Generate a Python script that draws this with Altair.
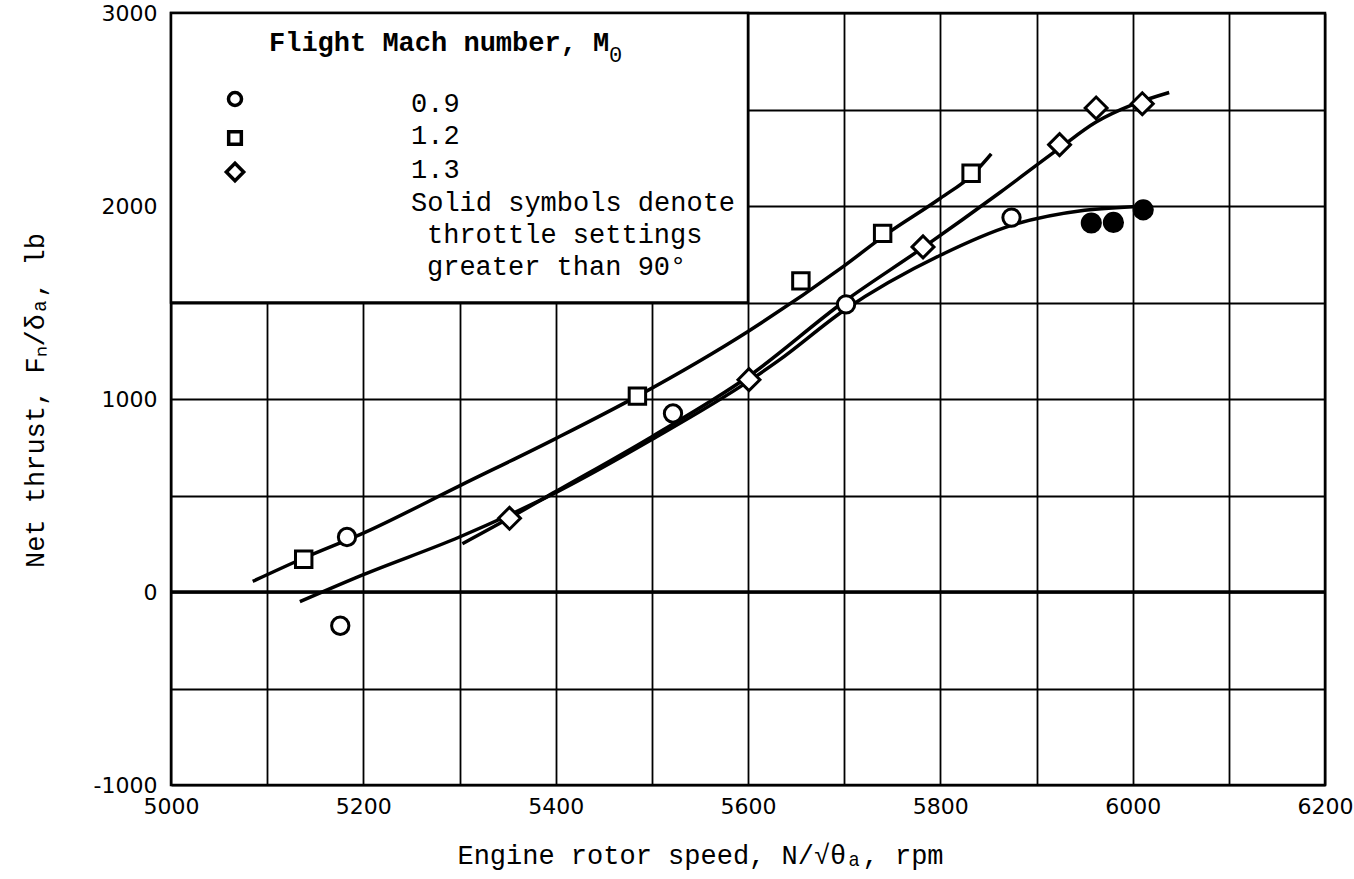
import altair as alt
import pandas as pd

# Measured points, Mach 0.9 (open circles) and throttle > 90 deg (solid circles)
m09_rpm = [5176, 5183, 5522, 5702, 5874]
m09_thrust = [-175, 285, 925, 1490, 1940]
m09_solid_rpm = [5957, 5980, 6011]
m09_solid_thrust = [1912, 1915, 1980]

# Mach 1.2 (squares) and Mach 1.3 (diamonds)
m12_rpm = [5138, 5485, 5655, 5740, 5832]
m12_thrust = [170, 1015, 1612, 1858, 2170]
m13_rpm = [5352, 5601, 5782, 5924, 5962, 6010]
m13_thrust = [382, 1100, 1788, 2318, 2508, 2530]

# Faired curves through each Mach number
c09_rpm = [5134, 5200, 5300, 5400, 5500, 5600, 5632, 5700, 5800, 5874, 5950, 6010]
c09_thrust = [-50, 90, 285, 515, 790, 1090, 1200, 1460, 1745, 1900, 1978, 1998]
c12_rpm = [5085, 5140, 5200, 5300, 5400, 5485, 5600, 5700, 5745, 5800, 5834, 5853]
c12_thrust = [55, 180, 305, 550, 795, 1015, 1350, 1690, 1858, 2040, 2165, 2270]
c13_rpm = [5303, 5350, 5400, 5500, 5600, 5700, 5783, 5862, 5924, 5962, 6000, 6038]
c13_thrust = [250, 378, 520, 805, 1115, 1505, 1788, 2070, 2300, 2435, 2525, 2588]

x_grid = list(range(5000, 6201, 100))
y_grid = list(range(-1000, 3001, 500))

W, H = 1154, 772
TYPE = "Liberation Mono"
TSIZE = 27

curves = pd.concat([
    pd.DataFrame({"rpm": c09_rpm, "thrust": c09_thrust, "mach": "0.9"}),
    pd.DataFrame({"rpm": c12_rpm, "thrust": c12_thrust, "mach": "1.2"}),
    pd.DataFrame({"rpm": c13_rpm, "thrust": c13_thrust, "mach": "1.3"}),
])
open_c = pd.DataFrame({"rpm": m09_rpm, "thrust": m09_thrust})
solid_c = pd.DataFrame({"rpm": m09_solid_rpm, "thrust": m09_solid_thrust})
squares = pd.DataFrame({"rpm": m12_rpm, "thrust": m12_thrust})
diamonds = pd.DataFrame({"rpm": m13_rpm, "thrust": m13_thrust})
key_box = pd.DataFrame({"x1": [5000], "x2": [5600], "y1": [1500], "y2": [3000]})
zero = pd.DataFrame({"thrust": [0]})
one = pd.DataFrame({"k": [0]})

xs = alt.Scale(domain=[5000, 6200], nice=False, zero=False)
ys = alt.Scale(domain=[-1000, 3000], nice=False, zero=False)

x_axis = alt.Axis(
    values=x_grid,
    labelExpr="datum.value % 200 === 0 ? '' + datum.value : ''",
    grid=True, gridColor="black", gridWidth=1.8, gridOpacity=1,
    ticks=False, domain=False, labelFont="DejaVu Sans", labelFontSize=22,
    labelColor="black", labelPadding=11, labelFlush=False, labelOverlap=False,
    title="Engine rotor speed, N/√θₐ, rpm", titleFont=TYPE, titleFontSize=TSIZE,
    titleFontWeight="normal", titleColor="black", titleX=529, titleY=70,
    titleAlign="center", titleBaseline="middle", zindex=0,
)
y_axis = alt.Axis(
    values=y_grid,
    labelExpr="datum.value % 1000 === 0 ? '' + datum.value : ''",
    grid=True, gridColor="black", gridWidth=1.8, gridOpacity=1,
    ticks=False, domain=False, labelFont="DejaVu Sans", labelFontSize=22,
    labelColor="black", labelPadding=14, labelFlush=False, labelOverlap=False,
    title="Net thrust, Fₙ/δₐ, lb", titleFont=TYPE, titleFontSize=TSIZE,
    titleFontWeight="normal", titleColor="black", titleX=-136, titleY=387,
    titleAngle=270, titleAlign="center", titleBaseline="middle", zindex=0,
)

base_x = alt.X("rpm:Q", scale=xs, axis=x_axis)
base_y = alt.Y("thrust:Q", scale=ys, axis=y_axis)

# White key panel over the upper-left grid
box = alt.Chart(key_box).mark_rect(fill="white", stroke="black", strokeWidth=2.5).encode(
    x=alt.X("x1:Q", scale=xs, axis=x_axis), x2="x2:Q",
    y=alt.Y("y1:Q", scale=ys, axis=y_axis), y2="y2:Q",
)

zero_line = alt.Chart(zero).mark_rule(color="black", strokeWidth=3.5).encode(
    y=alt.Y("thrust:Q", scale=ys, axis=y_axis)
)

lines = alt.Chart(curves).mark_line(color="black", strokeWidth=3.5, interpolate="monotone").encode(
    x=base_x, y=base_y, detail="mach:N"
)

def symbols(df, shape, size, fill):
    return alt.Chart(df).mark_point(
        shape=shape, size=size, filled=True, fill=fill, stroke="black",
        strokeWidth=3, opacity=1, fillOpacity=1,
    ).encode(x=base_x, y=base_y)

pts = [
    symbols(open_c, "circle", 300, "white"),
    symbols(solid_c, "circle", 330, "black"),
    symbols(squares, "square", 270, "white"),
    symbols(diamonds, "diamond", 480, "white"),
]

# Key entries
def key_text(txt, x, y, weight="normal", size=TSIZE):
    return alt.Chart(one).mark_text(
        x=x, y=y, text=txt, align="left", baseline="middle", font=TYPE,
        fontSize=size, fontWeight=weight, color="black",
    )

def key_symbol(shape, size, x, y):
    return alt.Chart(one).mark_point(
        x=x, y=y, shape=shape, size=size, filled=True, fill="white",
        stroke="black", strokeWidth=3.5, opacity=1,
    )

key = [
    key_text("Flight Mach number, M", 98, 30, "bold"),
    key_text("0", 438, 42, "normal", 22),
    key_symbol("circle", 170, 64, 86),
    key_symbol("square", 160, 64, 125),
    key_symbol("diamond", 300, 64, 159),
    key_text("0.9", 240, 91),
    key_text("1.2", 240, 123),
    key_text("1.3", 240, 157),
    key_text("Solid symbols denote", 240, 190),
    key_text("throttle settings", 256, 222),
    key_text("greater than 90°", 256, 254),
]

chart = alt.layer(box, zero_line, lines, *pts, *key).properties(
    width=W, height=H,
    autosize=alt.AutoSizeParams(type="none"),
    padding={"left": 171, "top": 13, "right": 29, "bottom": 94},
    background="white",
).configure_view(stroke="black", strokeWidth=2.5)

chart.save("out.html", embed_options={"renderer": "svg", "actions": False})
